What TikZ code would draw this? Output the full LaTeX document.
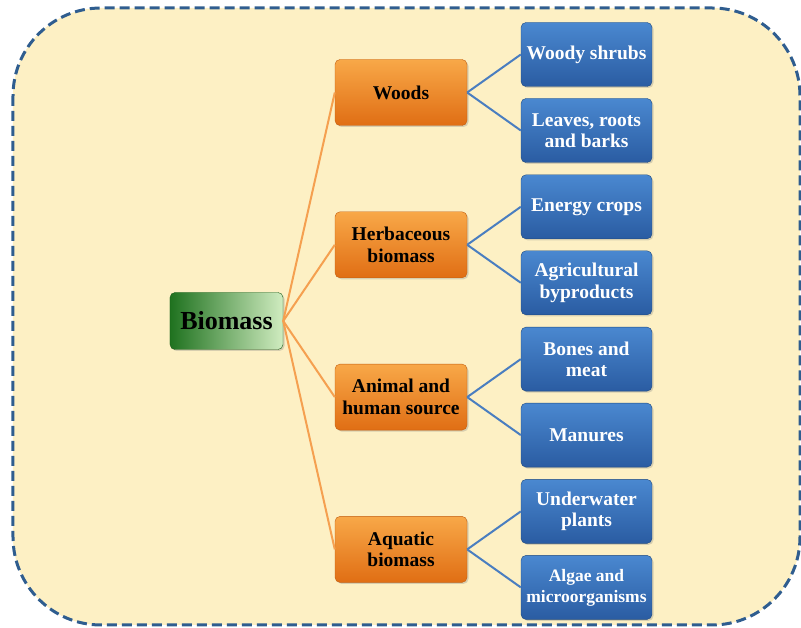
\documentclass[tikz,border=0pt]{standalone}
\usepackage{fontspec}
\setmainfont{Liberation Serif}
\usepackage{tikz}
\usetikzlibrary{shadows}

\definecolor{bgfill}{HTML}{FDF0C4}
\definecolor{bgedge}{HTML}{2F5D8F}
\definecolor{greendark}{HTML}{1F721F}
\definecolor{greenmid}{HTML}{3C9A3C}
\definecolor{greenlight}{HTML}{D0ECC0}
\definecolor{greenedge}{HTML}{1E5E1E}
\definecolor{orangetop}{HTML}{F8A848}
\definecolor{orangebot}{HTML}{E06E14}
\definecolor{orangeedge}{HTML}{C25E10}
\definecolor{bluetop}{HTML}{4A88D0}
\definecolor{bluebot}{HTML}{2A5CA2}
\definecolor{blueedge}{HTML}{1F4A80}
\definecolor{trunkline}{HTML}{F5A050}
\definecolor{twigline}{HTML}{4A7EC0}

\begin{document}
\begin{tikzpicture}[x=1pt, y=1pt, auto, node distance=152.3pt]

        \tikzstyle{base}=[rectangle, rounded corners=5pt, align=center, inner sep=2pt,
          font=\bfseries\fontsize{19.5}{21.5}\selectfont,
          drop shadow={opacity=0.3, shadow xshift=1.5pt, shadow yshift=-1.5pt}]
        \tikzstyle{root}=[base, minimum width=113pt, minimum height=57pt, draw=greenedge,
          left color=greendark, middle color=greenmid, right color=greenlight,
          font=\bfseries\fontsize{26}{28}\selectfont]
        \tikzstyle{cat}=[base, minimum width=132pt, minimum height=66pt, draw=orangeedge,
          top color=orangetop, bottom color=orangebot]
        \tikzstyle{leaf}=[base, minimum width=131pt, minimum height=64pt, draw=blueedge,
          top color=bluetop, bottom color=bluebot, text=white]
        \tikzstyle{trunk}=[draw=trunkline, line width=2pt]
        \tikzstyle{twig}=[draw=twigline, line width=2pt]
        \tikzstyle{frame}=[draw=bgedge, fill=bgfill, line width=3pt, dash pattern=on 10pt off 5pt, rounded corners=88pt]

        \useasboundingbox (-226.5,321) rectangle (574.5,-307);
        \path[frame] (-213.5,313) rectangle (573.5,-304);

        \node[root]  (bio)                                                     {Biomass};
        \node[cat]   (wood)   [right of = bio, node distance=174.5pt, yshift=228.5pt] {Woods};
        \node[cat]   (herb)   [below of = wood]                                {Herbaceous\\biomass};
        \node[cat]   (anim)   [below of = herb]                                {Animal and\\human source};
        \node[cat]   (aqua)   [below of = anim]                                {Aquatic\\biomass};

        \node[leaf]  (shrub)  [right of = wood, node distance=185.5pt, yshift=38pt]  {Woody shrubs};
        \node[leaf]  (bark)   [right of = wood, node distance=185.5pt, yshift=-38pt] {Leaves, roots\\and barks};
        \node[leaf]  (crop)   [right of = herb, node distance=185.5pt, yshift=38pt]  {Energy crops};
        \node[leaf]  (agri)   [right of = herb, node distance=185.5pt, yshift=-38pt] {Agricultural\\byproducts};
        \node[leaf]  (bone)   [right of = anim, node distance=185.5pt, yshift=38pt]  {Bones and\\meat};
        \node[leaf]  (manure) [right of = anim, node distance=185.5pt, yshift=-38pt] {Manures};
        \node[leaf]  (plant)  [right of = aqua, node distance=185.5pt, yshift=38pt]  {Underwater\\plants};
        \node[leaf, font=\bfseries\fontsize{17.5}{21}\selectfont]
                     (algae)  [right of = aqua, node distance=185.5pt, yshift=-38pt] {Algae and\\microorganisms};

        \path
        (bio.east)  edge[trunk] (wood.west)
        (bio.east)  edge[trunk] (herb.west)
        (bio.east)  edge[trunk] (anim.west)
        (bio.east)  edge[trunk] (aqua.west)
        (wood.east) edge[twig]  (shrub.west)
        (wood.east) edge[twig]  (bark.west)
        (herb.east) edge[twig]  (crop.west)
        (herb.east) edge[twig]  (agri.west)
        (anim.east) edge[twig]  (bone.west)
        (anim.east) edge[twig]  (manure.west)
        (aqua.east) edge[twig]  (plant.west)
        (aqua.east) edge[twig]  (algae.west)
    ;
    \end{tikzpicture}
\end{document}
